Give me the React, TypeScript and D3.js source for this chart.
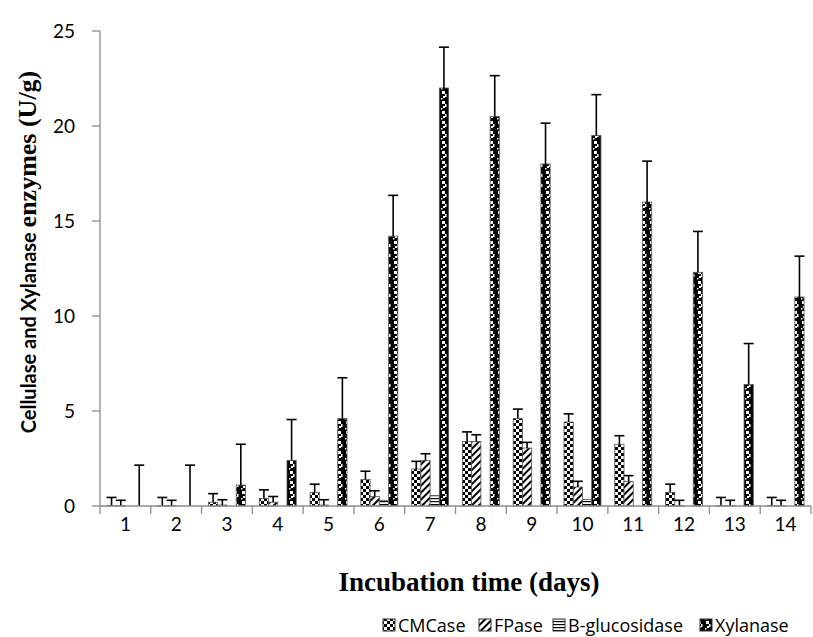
import React from "react";
import * as d3 from "d3";

const days = ["1", "2", "3", "4", "5", "6", "7", "8", "9", "10", "11", "12", "13", "14"];
const seriesNames = ["CMCase", "FPase", "B-glucosidase", "Xylanase"];
const cmcase = [0.02, 0.02, 0.2, 0.4, 0.72, 1.4, 1.95, 3.4, 4.6, 4.42, 3.25, 0.72, 0.02, 0.02];
const cmcaseErr = [0.43, 0.43, 0.45, 0.45, 0.43, 0.43, 0.4, 0.5, 0.5, 0.43, 0.45, 0.43, 0.43, 0.43];
const fpase = [0.02, 0.02, 0.05, 0.2, 0.05, 0.5, 2.4, 3.4, 3.05, 1.0, 1.3, 0.02, 0.02, 0.02];
const fpaseErr = [0.28, 0.28, 0.28, 0.3, 0.28, 0.3, 0.35, 0.35, 0.3, 0.3, 0.3, 0.28, 0.28, 0.28];
const bgluc = [0, 0, 0, 0, 0, 0.3, 0.55, 0, 0, 0.35, 0, 0, 0, 0];
const bglucErr = [0, 0, 0, 0, 0, 0, 0, 0, 0, 0, 0, 0, 0, 0];
const xylanase = [0, 0, 1.1, 2.4, 4.6, 14.2, 22, 20.5, 18, 19.5, 16, 12.3, 6.4, 11];
const xylanaseErr = [2.15, 2.15, 2.15, 2.15, 2.15, 2.15, 2.15, 2.15, 2.15, 2.15, 2.15, 2.15, 2.15, 2.15];
const yTicks = [0, 5, 10, 15, 20, 25];

const values = [cmcase, fpase, bgluc, xylanase];
const errors = [cmcaseErr, fpaseErr, bglucErr, xylanaseErr];
const patternIds = ["pCM", "pFP", "pBG", "pXY"];

const sans = "Lato, 'Open Sans', sans-serif";
const legendFont = "'Open Sans', Lato, sans-serif";
const serif = "'Liberation Serif', 'Times New Roman', serif";

export default function App() {
  const W = 813, H = 637;
  const left = 100, right = 811, top = 31, bottom = 506;
  const x = d3.scaleBand<string>().domain(days).range([left, right]).padding(0);
  const xs = d3.scaleBand<string>().domain(seriesNames).range([0, x.bandwidth()]).paddingInner(0).paddingOuter(0.75);
  const y = d3.scaleLinear().domain([0, 25]).range([bottom, top]);
  const bw = xs.bandwidth();
  const axisColor = "#8c8c8c";

  const legendItems = [
    { name: "CMCase", x: 383 },
    { name: "FPase", x: 479 },
    { name: "B-glucosidase", x: 553 },
    { name: "Xylanase", x: 700 },
  ];

  return (
    <svg width={W} height={H} style={{ position: "absolute", left: 0, top: 0, background: "#fff" }}>
      <defs>
        <pattern id="pCM" width="6" height="6" patternUnits="userSpaceOnUse">
          <rect width="6" height="6" fill="#fff" />
          <rect width="3" height="3" fill="#000" />
          <rect x="3" y="3" width="3" height="3" fill="#000" />
        </pattern>
        <pattern id="pFP" width="5" height="5" patternUnits="userSpaceOnUse" patternTransform="rotate(45)">
          <rect width="5" height="5" fill="#fff" />
          <rect width="2" height="5" fill="#000" />
        </pattern>
        <pattern id="pBG" width="4" height="3" patternUnits="userSpaceOnUse">
          <rect width="4" height="3" fill="#fff" />
          <rect width="4" height="1.2" fill="#000" />
        </pattern>
        <pattern id="pXY" width="8" height="10" patternUnits="userSpaceOnUse">
          <rect width="8" height="10" fill="#000" />
          <rect x="2" y="1" width="3" height="3" fill="#fff" />
          <rect x="5" y="4" width="1.5" height="3" fill="#fff" />
          <rect x="3" y="6" width="2" height="2" fill="#fff" />
          <rect x="1" y="8" width="1.5" height="1.5" fill="#fff" />
        </pattern>
      </defs>

      {/* bars */}
      {seriesNames.map((s, si) => (
        <g key={s}>
          {days.map((d, di) => {
            const v = values[si][di];
            const bx = (x(d) as number) + (xs(s) as number);
            const by = y(v);
            const h = y(0) - by;
            return h > 0 ? (
              <rect key={d} x={bx} y={by} width={bw} height={h}
                fill={`url(#${patternIds[si]})`} stroke="#555" strokeWidth={0.8} />
            ) : null;
          })}
        </g>
      ))}

      {/* error bars */}
      {seriesNames.map((s, si) => (
        <g key={s + "e"} stroke="#000" strokeWidth={1.6}>
          {days.map((d, di) => {
            const e = errors[si][di];
            if (!e) return null;
            const v = values[si][di];
            const cx = (x(d) as number) + (xs(s) as number) + bw / 2;
            const y1 = y(v);
            const y2 = y(v + e);
            return (
              <g key={d}>
                <line x1={cx} x2={cx} y1={y1} y2={y2} />
                <line x1={cx - 5} x2={cx + 5} y1={y2} y2={y2} />
              </g>
            );
          })}
        </g>
      ))}

      {/* y axis */}
      <line x1={left} x2={left} y1={top} y2={bottom} stroke={axisColor} strokeWidth={1.3} />
      {yTicks.map((t) => (
        <g key={t}>
          <line x1={left - 8} x2={left} y1={y(t)} y2={y(t)} stroke={axisColor} strokeWidth={1.3} />
          <text x={75} y={y(t)} dy="0.35em" textAnchor="end" fontFamily={sans} fontSize={19} fill="#000">{t}</text>
        </g>
      ))}

      {/* x axis */}
      <line x1={left} x2={right} y1={bottom} y2={bottom} stroke={axisColor} strokeWidth={1.3} />
      {days.map((d) => (
        <line key={d} x1={(x(d) as number) + x.bandwidth()} x2={(x(d) as number) + x.bandwidth()}
          y1={bottom} y2={bottom + 8} stroke={axisColor} strokeWidth={1.3} />
      ))}
      <line x1={left} x2={left} y1={bottom} y2={bottom + 8} stroke={axisColor} strokeWidth={1.3} />
      {days.map((d) => (
        <text key={d} x={(x(d) as number) + x.bandwidth() / 2} y={531} textAnchor="middle"
          fontFamily={sans} fontSize={19} fill="#000">{d}</text>
      ))}

      {/* axis titles */}
      <text x={469} y={591} textAnchor="middle" fontFamily={serif} fontWeight="bold" fontSize={27} fill="#000">
        Incubation time (days)
      </text>
      <text transform="translate(36,252) rotate(-90)" textAnchor="middle" fontWeight="bold" fill="#000">
        <tspan fontFamily={sans} fontSize={20}>Cellulase and Xylanase </tspan>
        <tspan fontFamily={serif} fontSize={26}>enzymes (U/g)</tspan>
      </text>

      {/* legend */}
      {legendItems.map((it, i) => (
        <g key={it.name}>
          <rect x={it.x} y={619} width={12} height={12} fill={`url(#${patternIds[i]})`} stroke="#333" strokeWidth={1} />
          <text x={it.x + 15} y={632} fontFamily={legendFont} fontSize={18} fill="#000">{it.name}</text>
        </g>
      ))}
    </svg>
  );
}
